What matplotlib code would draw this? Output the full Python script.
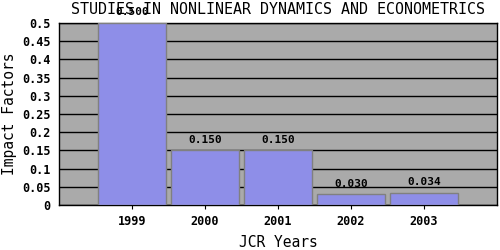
import matplotlib
matplotlib.use('Agg')
import matplotlib.pyplot as plt

years = ['1999', '2000', '2001', '2002', '2003']
impact = [0.5, 0.15, 0.15, 0.03, 0.034]
value_labels = ['0.500', '0.150', '0.150', '0.030', '0.034']
yticks = [0, 0.05, 0.1, 0.15, 0.2, 0.25, 0.3, 0.35, 0.4, 0.45, 0.5]
ytick_labels = ['0', '0.05', '0.1', '0.15', '0.2', '0.25', '0.3', '0.35', '0.4', '0.45', '0.5']

plt.rcParams['font.family'] = 'DejaVu Sans Mono'
fig = plt.figure(figsize=(5, 2.5), dpi=100)
ax = fig.add_axes([0.118, 0.18, 0.876, 0.728])
ax.set_facecolor('#aaaaaa')

x = list(range(len(years)))
ax.bar(x, impact, width=0.92, color='#8e8ee8', edgecolor='#808080', linewidth=1, zorder=3)
for i, v in enumerate(impact):
    ax.annotate(value_labels[i], (x[i], v), xytext=(0, 4), textcoords='offset points',
                ha='center', va='bottom', fontsize=8, fontweight='bold', zorder=4,
                annotation_clip=False)

ax.set_xlim(-1, 5)
ax.set_ylim(0, 0.5)
ax.set_xticks(x)
ax.set_xticklabels(years, fontsize=8.5, fontweight='bold')
ax.set_yticks(yticks)
ax.set_yticklabels(ytick_labels, fontsize=8.5, fontweight='bold')
ax.tick_params(axis='y', length=0, pad=6)
ax.tick_params(axis='x', length=3, direction='out', pad=4)
ax.yaxis.grid(True, color='black', linewidth=1, zorder=1)
ax.set_axisbelow(True)
for s in ax.spines.values():
    s.set_color('black')
    s.set_linewidth(1)

ax.set_xlabel('JCR Years', fontsize=10.5, labelpad=5)
ax.set_ylabel('Impact Factors', fontsize=10.5, labelpad=4)
fig.text(0.556, 0.96, 'STUDIES IN NONLINEAR DYNAMICS AND ECONOMETRICS', ha='center', va='center',
         fontsize=10.8)

fig.savefig('out.png', dpi=100, facecolor='white')
